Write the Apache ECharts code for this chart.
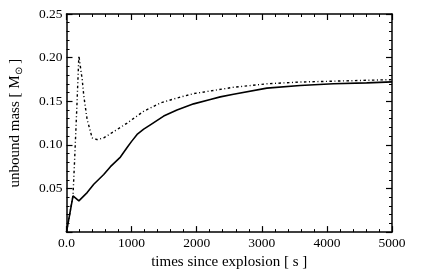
<!DOCTYPE html>
<html><head><meta charset="utf-8">
<script src="https://cdn.jsdelivr.net/npm/echarts@6/dist/echarts.min.js"></script>
<style>html,body{margin:0;padding:0;background:#fff}#c{width:436px;height:275px}</style>
</head><body><div id="c"></div>
<script>
const tSolid = [0, 100, 190, 317, 419, 572, 675, 828, 931, 1000, 1084, 1186, 1288, 1493, 1697, 1953, 2209, 2362, 2566, 3078, 3589, 4100, 4611, 5000];
const mSolid = [0, 0.0415, 0.0358, 0.0453, 0.0548, 0.066, 0.075, 0.086, 0.097, 0.104, 0.112, 0.118, 0.123, 0.133, 0.140, 0.147, 0.152, 0.155, 0.158, 0.165, 0.168, 0.170, 0.171, 0.1722];
const tDot = [0, 100, 123, 160, 190, 241, 266, 317, 394, 470, 572, 700, 828, 931, 1186, 1442, 1697, 1953, 2311, 2566, 3078, 3589, 4100, 4611, 5000];
const mDot = [0, 0.042, 0.08, 0.145, 0.202, 0.175, 0.156, 0.129, 0.108, 0.106, 0.108, 0.114, 0.120, 0.125, 0.1385, 0.148, 0.1537, 0.1587, 0.163, 0.166, 0.170, 0.172, 0.173, 0.174, 0.1748];
const xTicks = [0, 1000, 2000, 3000, 4000, 5000];
const yTicks = [0.05, 0.10, 0.15, 0.20, 0.25];

const F = 'Liberation Serif';
const pair = (a, b) => a.map((v, i) => [v, b[i]]);
const chart = echarts.init(document.getElementById('c'));
const axLine = {show: true, onZero: false, lineStyle: {color: '#000', width: 1.5}};
const tick = {show: true, inside: true, length: 6, lineStyle: {color: '#000', width: 1.2}};
const minor = {show: true, splitNumber: 5, length: 3, lineStyle: {color: '#000', width: 1}};
chart.setOption({
  animation: false,
  grid: {left: 66, right: 44, top: 14, bottom: 42},
  xAxis: [{
    type: 'value', min: 0, max: 5000, interval: 1000,
    axisLine: axLine, axisTick: tick, minorTick: minor, splitLine: {show: false},
    axisLabel: {fontFamily: F, fontSize: 13.5, color: '#000', margin: 4,
      formatter: v => v === 0 ? '0.0' : (xTicks.includes(v) ? String(v) : '')},
    name: 'times since explosion [ s ]', nameLocation: 'middle', nameGap: 22,
    nameTextStyle: {fontFamily: F, fontSize: 15, color: '#000'}
  }, {
    type: 'value', position: 'top', min: 0, max: 5000, interval: 1000,
    axisLine: axLine, axisTick: tick, minorTick: minor, splitLine: {show: false},
    axisLabel: {show: false}
  }],
  yAxis: [{
    type: 'value', min: 0, max: 0.25, interval: 0.05,
    axisLine: axLine, axisTick: tick, minorTick: minor, splitLine: {show: false},
    axisLabel: {fontFamily: F, fontSize: 13.5, color: '#000', margin: 4,
      formatter: v => {const s = v.toFixed(2); return yTicks.some(t => Math.abs(t - v) < 1e-9) ? s : '';}},
    name: 'unbound mass [ {m|M}{s|⊙} ]', nameLocation: 'middle', nameGap: 42, nameRotate: 90,
    nameTextStyle: {fontFamily: F, fontSize: 15, color: '#000',
      rich: {m: {fontFamily: F, fontSize: 15, color: '#000'}, s: {fontFamily: F, fontSize: 10, color: '#000', verticalAlign: 'bottom', padding: [8, 0, 0, 0]}}}
  }, {
    type: 'value', position: 'right', min: 0, max: 0.25, interval: 0.05,
    axisLine: axLine, axisTick: tick, minorTick: minor, splitLine: {show: false},
    axisLabel: {show: false}
  }],
  series: [{
    type: 'line', data: pair(tSolid, mSolid), showSymbol: false, symbol: 'none',
    lineStyle: {color: '#000', width: 1.6}
  }, {
    type: 'line', data: pair(tDot, mDot), showSymbol: false, symbol: 'none',
    lineStyle: {color: '#000', width: 1.4, type: [2.5, 2.5, 1, 2.5]}
  }]
});
</script></body></html>
